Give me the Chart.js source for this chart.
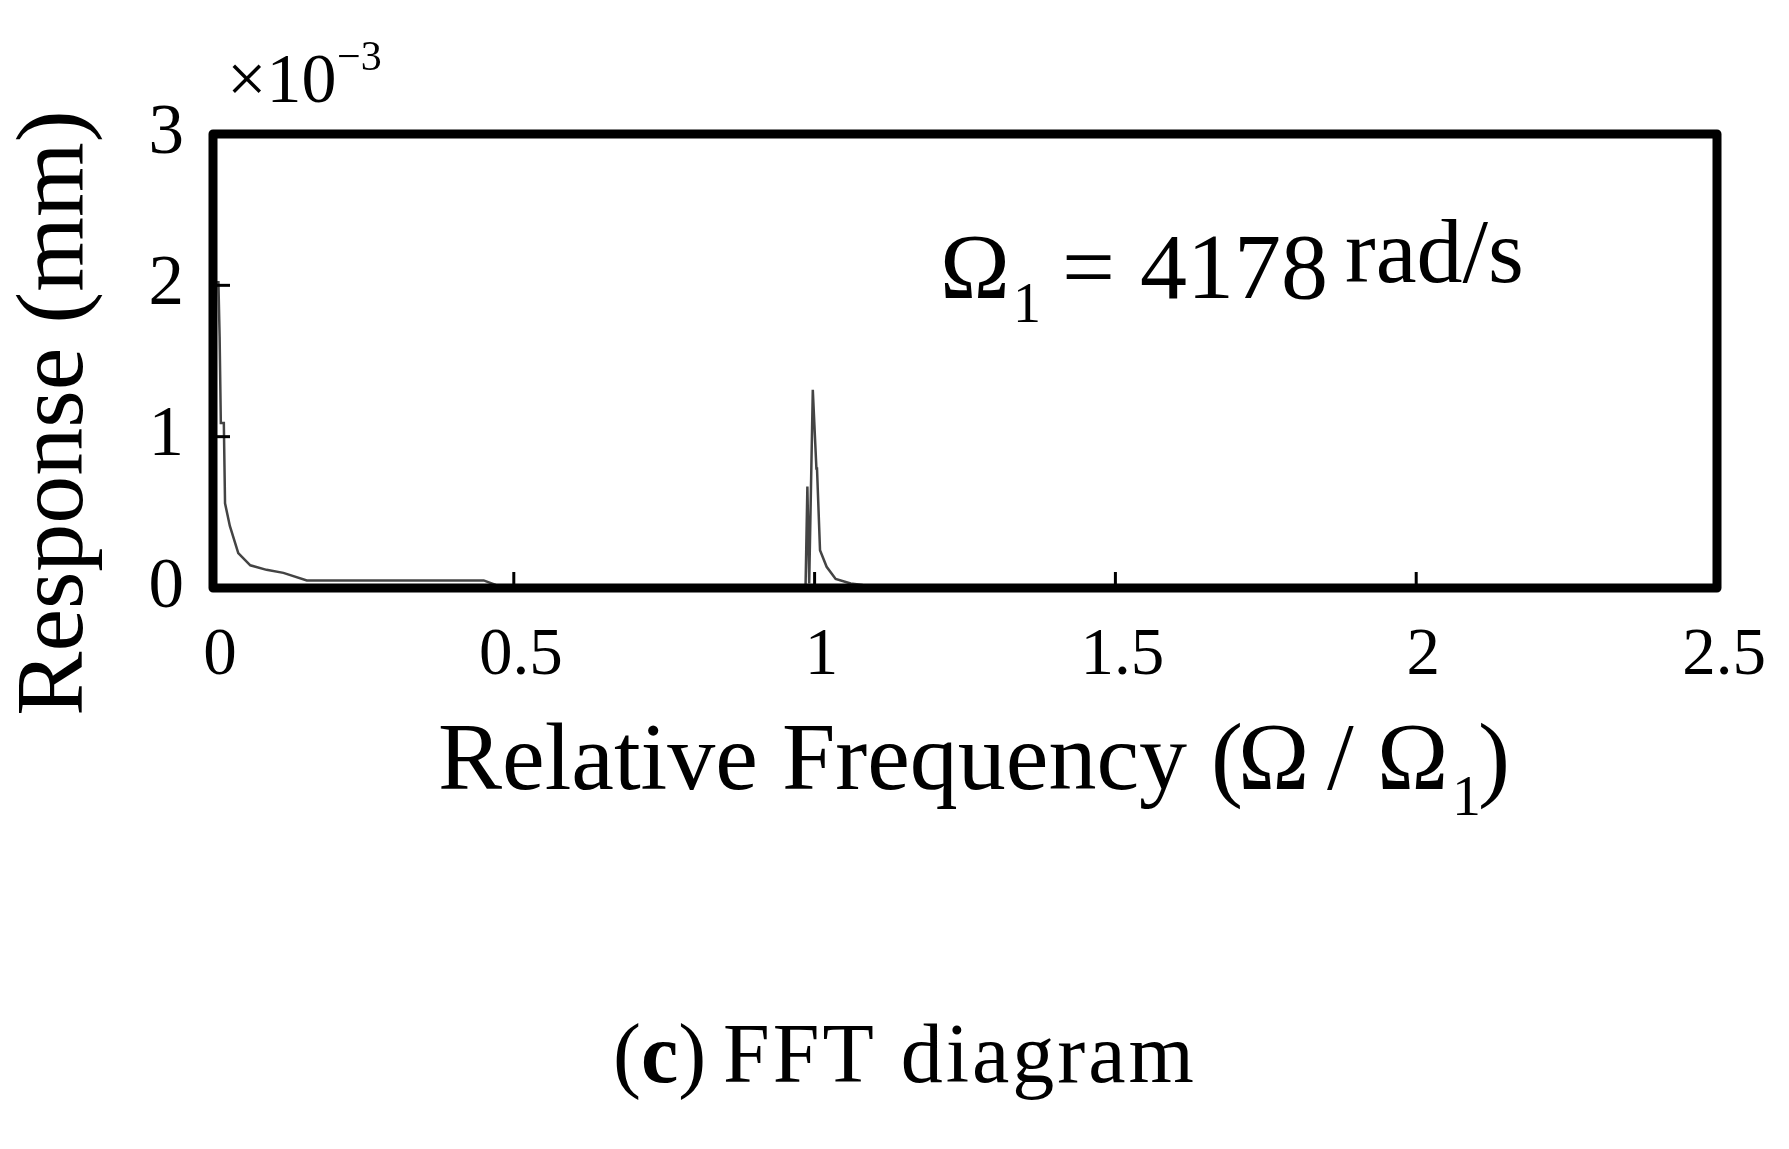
<!DOCTYPE html>
<html><head><meta charset="utf-8">
<script src="https://cdn.jsdelivr.net/npm/chart.js@4.4.1/dist/chart.umd.min.js"></script>
<style>html,body{margin:0;padding:0;background:#fff;} canvas{display:block;background:#fff;}</style>
</head><body>
<canvas id="c" width="1789" height="1149"></canvas>
<script>
// ---- data ----
const freq = [0, 0.009, 0.011, 0.013, 0.018, 0.020, 0.028, 0.042, 0.062, 0.089, 0.117, 0.156, 0.30, 0.45, 0.47, 0.70, 0.95,
              0.985, 0.988, 0.991, 0.997, 1.003, 1.004, 1.009, 1.02, 1.035, 1.06, 1.08, 1.2, 1.6, 2.0, 2.5];
const response = [2.02, 2.02, 1.66, 1.09, 1.09, 0.56, 0.41, 0.23, 0.15, 0.12, 0.10, 0.05, 0.05, 0.05, 0.02, 0.015, 0.01,
                  0.02, 0.67, 0.03, 1.31, 0.79, 0.79, 0.25, 0.14, 0.06, 0.03, 0.02, 0.01, 0.005, 0.003, 0.002];
const xTicks = [0, 0.5, 1, 1.5, 2, 2.5];
const xTickLabels = ['0', '0.5', '1', '1.5', '2', '2.5'];
const yTicks = [0, 1, 2, 3];
const yTickLabels = ['0', '1', '2', '3'];
const innerXTicks = [0.5, 1, 1.5, 2];
const innerYTicks = [1, 2];

const SERIF = '"Liberation Serif", "Times New Roman", serif';

const framePlugin = {
  id: 'frame',
  afterDatasetsDraw(chart) {
    const { ctx, chartArea: a, scales: { x, y } } = chart;
    ctx.save();
    ctx.strokeStyle = '#000';
    ctx.lineWidth = 3;
    innerXTicks.forEach(v => {
      const px = x.getPixelForValue(v);
      ctx.beginPath(); ctx.moveTo(px, a.bottom); ctx.lineTo(px, a.bottom - 16); ctx.stroke();
    });
    innerYTicks.forEach(v => {
      const py = y.getPixelForValue(v);
      ctx.beginPath(); ctx.moveTo(a.left, py); ctx.lineTo(a.left + 17, py); ctx.stroke();
    });
    ctx.lineWidth = 9;
    ctx.lineJoin = 'round';
    ctx.strokeRect(a.left, a.top, a.right - a.left, a.bottom - a.top);
    ctx.restore();
  }
};

function put(ctx, str, x, y, size, weight) {
  ctx.font = (weight || 'normal') + ' ' + size + 'px ' + SERIF;
  ctx.fillText(str, x, y);
  return x + ctx.measureText(str).width;
}

const textPlugin = {
  id: 'texts',
  afterDraw(chart) {
    const ctx = chart.ctx;
    ctx.save();
    ctx.fillStyle = '#000';
    ctx.textBaseline = 'alphabetic';
    ctx.textAlign = 'left';
    // exponent
    put(ctx, '\u00D710', 227, 102, 70);
    put(ctx, '\u22123', 337, 70, 42);
    // y title
    ctx.save();
    ctx.translate(82, 413);
    ctx.rotate(-Math.PI / 2);
    ctx.textAlign = 'center';
    put(ctx, 'Response (mm)', 0, 0, 96);
    ctx.restore();
    // annotation
    put(ctx, '\u03A9', 940, 298, 94);
    put(ctx, '1', 1013, 322, 56);
    put(ctx, '=', 1062, 298, 94);
    put(ctx, '4178', 1140, 298, 94);
    put(ctx, 'rad/s', 1345, 282, 92);
    // x title
    put(ctx, 'Relative Frequency (', 438, 789, 96);
    put(ctx, '\u03A9', 1238, 789, 96);
    put(ctx, '/', 1327, 789, 96);
    put(ctx, '\u03A9', 1377, 789, 96);
    put(ctx, '1', 1452, 815, 58);
    put(ctx, ')', 1478, 789, 96);
    // caption
    let cx = put(ctx, '(', 613, 1082, 84);
    cx = put(ctx, 'c', cx, 1082, 84, 'bold');
    cx = put(ctx, ')', cx, 1082, 84);
    ctx.letterSpacing = '3px';
    put(ctx, 'FFT diagram', 723, 1082, 84);
    ctx.letterSpacing = '0px';
    ctx.restore();
  }
};

const points = freq.map((f, i) => ({ x: f, y: response[i] }));

new Chart(document.getElementById('c'), {
  type: 'scatter',
  data: {
    datasets: [{
      data: points,
      showLine: true,
      borderColor: '#444',
      borderWidth: 2.5,
      pointRadius: 0,
      tension: 0
    }]
  },
  options: {
    responsive: false,
    animation: false,
    devicePixelRatio: 1,
    layout: { padding: { left: 0, right: 72, top: 134, bottom: 441 } },
    plugins: { legend: { display: false }, tooltip: { enabled: false } },
    scales: {
      x: {
        type: 'linear', min: 0, max: 2.5,
        grid: { display: false, drawTicks: false },
        border: { display: false },
        afterFit(s) { s.height = 120; },
        afterBuildTicks(s) { s.ticks = xTicks.map(v => ({ value: v })); },
        ticks: {
          autoSkip: false, maxRotation: 0, minRotation: 0, padding: 28, labelOffset: 7, color: '#000',
          font: { family: SERIF, size: 67 },
          callback: (v) => xTickLabels[xTicks.indexOf(v)]
        }
      },
      y: {
        type: 'linear', min: 0, max: 3,
        grid: { display: false, drawTicks: false },
        border: { display: false },
        afterFit(s) { s.width = 213; },
        afterBuildTicks(s) { s.ticks = yTicks.map(v => ({ value: v })); },
        ticks: {
          autoSkip: false, padding: 29, color: '#000',
          font: { family: SERIF, size: 71 },
          callback: (v) => yTickLabels[yTicks.indexOf(v)]
        }
      }
    }
  },
  plugins: [framePlugin, textPlugin]
});
</script>
</body></html>
